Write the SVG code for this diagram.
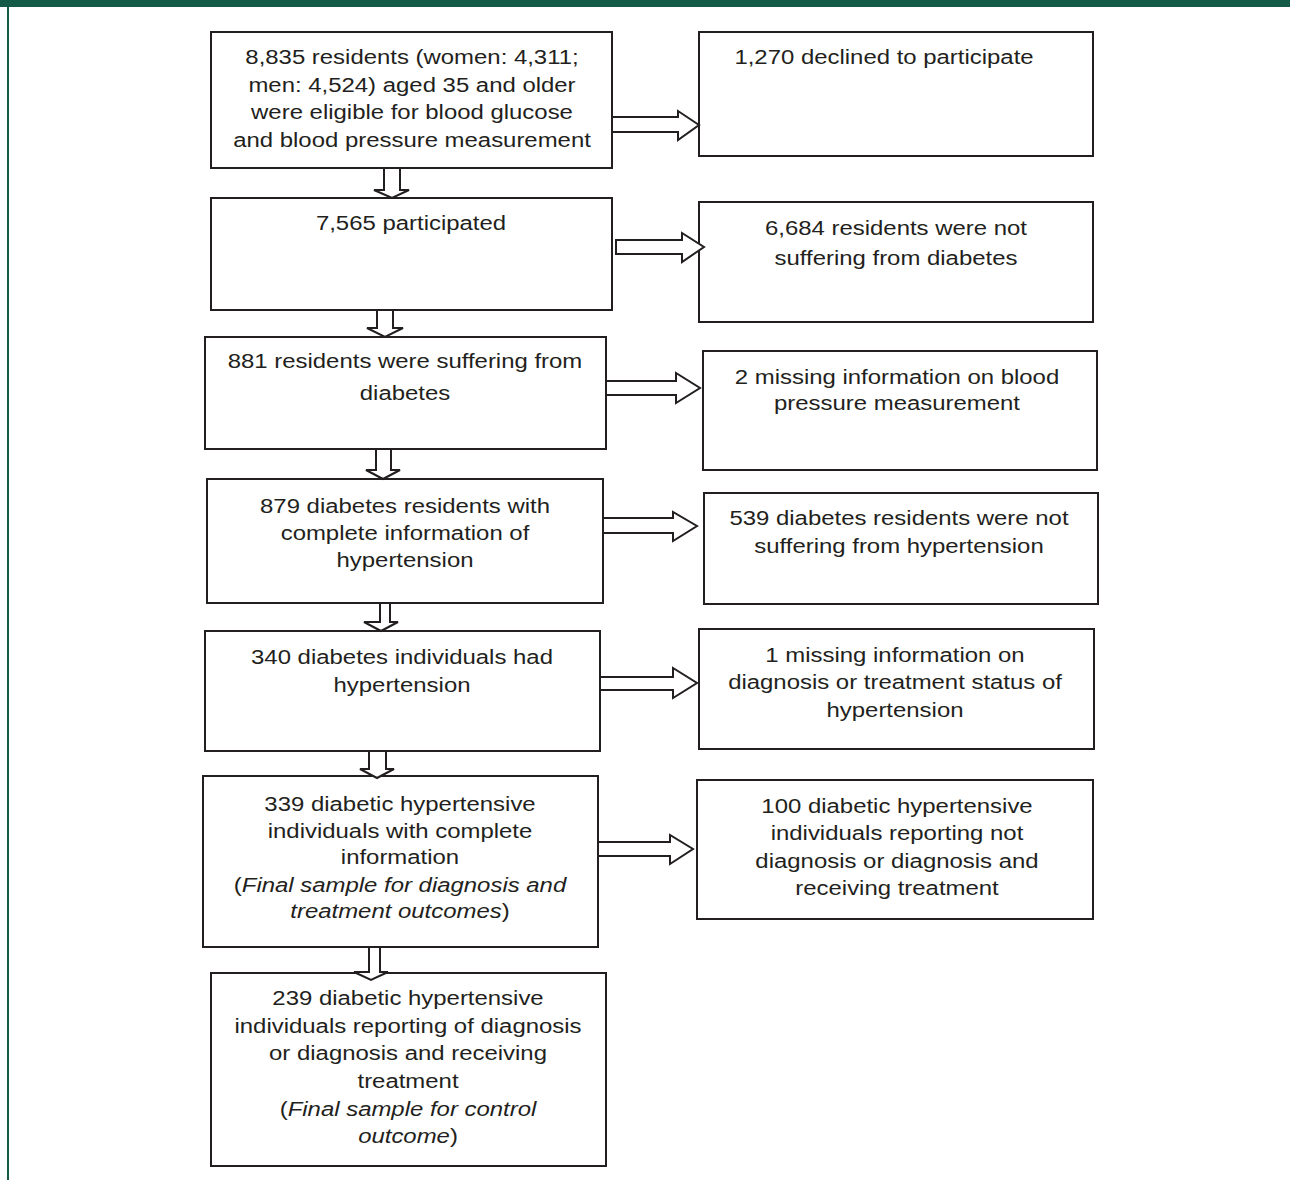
<svg xmlns="http://www.w3.org/2000/svg" width="1290" height="1180" viewBox="0 0 1290 1180">
<style>
.box{fill:#fff;stroke:#231f20;stroke-width:2}
.arr{fill:#fff;stroke:#231f20;stroke-width:2;stroke-linejoin:miter}
text{font-family:"Liberation Sans",Arial,sans-serif;font-size:21px;fill:#231f20;text-anchor:middle}
.it{font-style:italic}
</style>
<rect width="1290" height="1180" fill="#fff"/>
<rect x="0" y="0" width="1290" height="7" fill="#135b47"/>
<rect x="7" y="7" width="2" height="1173" fill="#135b47"/>

<g id="n1"><rect class="box" x="211" y="32" width="401" height="136"/>
<g transform="translate(412 0) scale(1.14 1)"><text x="0" y="64">8,835 residents (women: 4,311;</text><text x="0" y="92">men: 4,524) aged 35 and older</text><text x="0" y="119">were eligible for blood glucose</text><text x="0" y="147">and blood pressure measurement</text></g></g>

<g id="r1"><rect class="box" x="699" y="32" width="394" height="124"/>
<g transform="translate(884 0) scale(1.14 1)"><text x="0" y="64">1,270 declined to participate</text></g></g>

<g id="n2"><rect class="box" x="211" y="198" width="401" height="112"/>
<g transform="translate(411 0) scale(1.14 1)"><text x="0" y="230">7,565 participated</text></g></g>

<g id="r2"><rect class="box" x="699" y="202" width="394" height="120"/>
<g transform="translate(896 0) scale(1.14 1)"><text x="0" y="235">6,684 residents were not</text><text x="0" y="265">suffering from diabetes</text></g></g>

<g id="n3"><rect class="box" x="205" y="337" width="401" height="112"/>
<g transform="translate(405 0) scale(1.14 1)"><text x="0" y="368">881 residents were suffering from</text><text x="0" y="400">diabetes</text></g></g>

<g id="r3"><rect class="box" x="703" y="351" width="394" height="119"/>
<g transform="translate(897 0) scale(1.14 1)"><text x="0" y="384">2 missing information on blood</text><text x="0" y="410">pressure measurement</text></g></g>

<g id="n4"><rect class="box" x="207" y="479" width="396" height="124"/>
<g transform="translate(405 0) scale(1.14 1)"><text x="0" y="513">879 diabetes residents with</text><text x="0" y="540">complete information of</text><text x="0" y="567">hypertension</text></g></g>

<g id="r4"><rect class="box" x="704" y="493" width="394" height="111"/>
<g transform="translate(899 0) scale(1.14 1)"><text x="0" y="525">539 diabetes residents were not</text><text x="0" y="553">suffering from hypertension</text></g></g>

<g id="n5"><rect class="box" x="205" y="631" width="395" height="120"/>
<g transform="translate(402 0) scale(1.14 1)"><text x="0" y="664">340 diabetes individuals had</text><text x="0" y="692">hypertension</text></g></g>

<g id="r5"><rect class="box" x="699" y="629" width="395" height="120"/>
<g transform="translate(895 0) scale(1.14 1)"><text x="0" y="662">1 missing information on</text><text x="0" y="689">diagnosis or treatment status of</text><text x="0" y="717">hypertension</text></g></g>

<g id="n6"><rect class="box" x="203" y="776" width="395" height="171"/>
<g transform="translate(400 0) scale(1.14 1)"><text x="0" y="811">339 diabetic hypertensive</text><text x="0" y="838">individuals with complete</text><text x="0" y="864">information</text><text x="0" y="892">(<tspan class="it">Final sample for diagnosis and</tspan></text><text x="0" y="918"><tspan class="it">treatment outcomes</tspan>)</text></g></g>

<g id="r6"><rect class="box" x="697" y="780" width="396" height="139"/>
<g transform="translate(897 0) scale(1.14 1)"><text x="0" y="813">100 diabetic hypertensive</text><text x="0" y="840">individuals reporting not</text><text x="0" y="868">diagnosis or diagnosis and</text><text x="0" y="895">receiving treatment</text></g></g>

<g id="n7"><rect class="box" x="211" y="973" width="395" height="193"/>
<g transform="translate(408 0) scale(1.14 1)"><text x="0" y="1005">239 diabetic hypertensive</text><text x="0" y="1033">individuals reporting of diagnosis</text><text x="0" y="1060">or diagnosis and receiving</text><text x="0" y="1088">treatment</text><text x="0" y="1116">(<tspan class="it">Final sample for control</tspan></text><text x="0" y="1143"><tspan class="it">outcome</tspan>)</text></g></g>

<g id="connectors">
<polygon class="arr" points="384,168 400,168 400,190 409,190 392,198 374,190 384,190"/>
<polygon class="arr" points="377,310 393,310 393,328 403,328 385,337 367,328 377,328"/>
<polygon class="arr" points="376,449 391,449 391,470 400,470 383,479 366,470 376,470"/>
<polygon class="arr" points="380,603 390,603 390,622 398,622 381,631 364,622 380,622"/>
<polygon class="arr" points="369,751 386,751 386,769 394,769 377,778 360,769 369,769"/>
<polygon class="arr" points="369,947 380,947 380,972 388,972 371,980 354,972 369,972"/>
<polygon class="arr" points="612,117 678,117 678,111 699,125 678,140 678,132 612,132"/>
<polygon class="arr" points="616,240 682,240 682,233 704,247 682,262 682,254 616,254"/>
<polygon class="arr" points="606,381 676,381 676,373 700,388 676,403 676,395 606,395"/>
<polygon class="arr" points="603,518 673,518 673,512 697,526 673,541 673,533 603,533"/>
<polygon class="arr" points="600,677 673,677 673,668 697,683 673,698 673,690 600,690"/>
<polygon class="arr" points="598,842 670,842 670,835 693,849 670,864 670,856 598,856"/>
</g>
</svg>
